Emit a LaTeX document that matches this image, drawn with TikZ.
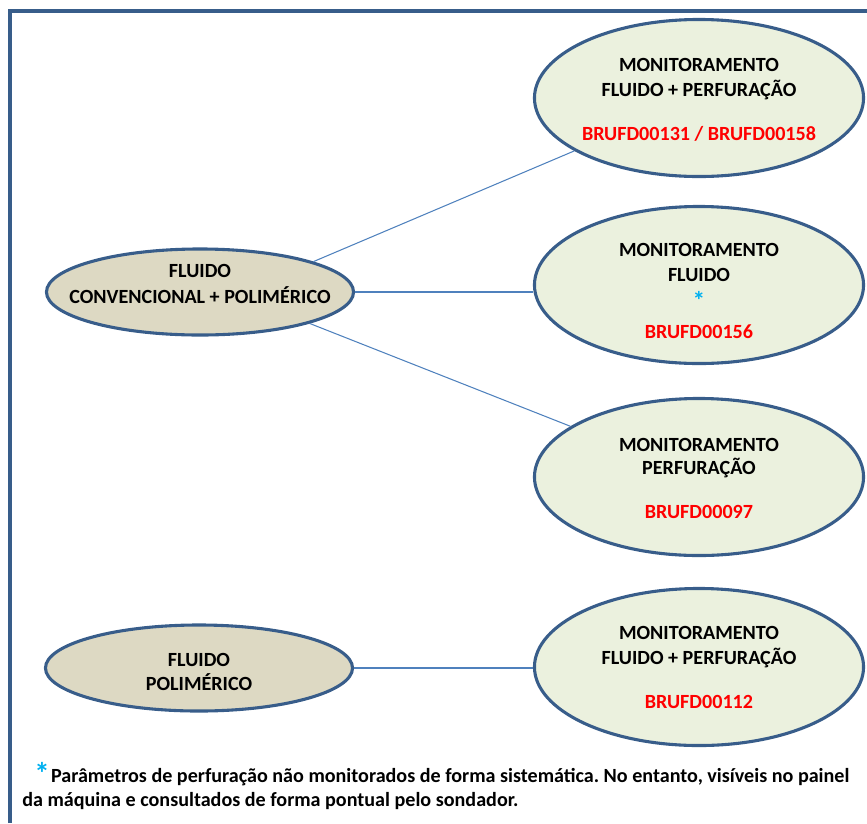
\documentclass[tikz,border=0pt]{standalone}
\usepackage{fontspec}
\setmainfont{Carlito}
\usetikzlibrary{shapes.geometric}

\definecolor{borderblue}{HTML}{385D8A}
\definecolor{linkblue}{HTML}{4F81BD}
\definecolor{tanfill}{HTML}{DDD9C3}
\definecolor{greenfill}{HTML}{EBF1DE}
\definecolor{brured}{HTML}{FF0000}
\definecolor{starblue}{HTML}{00B0F0}

\frenchspacing

\begin{document}
\begin{tikzpicture}[x=0.025cm, y=-0.025cm,
    blob/.style={ellipse, draw=borderblue, line width=2.2pt, inner sep=0pt},
    fluid/.style={blob, fill=tanfill, minimum width=7.675cm, minimum height=2.15cm},
    monit/.style={blob, fill=greenfill, minimum width=8.225cm, minimum height=3.925cm},
    txt/.style={anchor=base, align=center, inner sep=0pt, font=\fontsize{14.3}{17.8}\selectfont\bfseries},
    link/.style={draw=linkblue, line width=0.75pt}]

            \useasboundingbox (0,0) rectangle (867,823);
            \draw[borderblue, line width=2.3pt] (10,823) -- (10,11) -- (867,11);

            \node[fluid] (F_1) at (200,292) {};
            \node[fluid] (F_2) at (199,668) {};

            \node[monit] (M_1) at (699,98) {};
            \node[monit] (M_2) at (699,285) {};
            \node[monit] (M_3) at (699,477) {};
            \node[monit] (M_4) at (699,667) {};

            % textos (ancorados na ultima linha)
            \node[txt] (F_1txt) at (200,303) {FLUIDO\\CONVENCIONAL + POLIMÉRICO};
            \node[txt] (F_2txt) at (199,690) {FLUIDO\\[-1.4pt]POLIMÉRICO};
            \node[txt] (M_1txt) at (699,140) {MONITORAMENTO\\FLUIDO + PERFURAÇÃO\\[12.8pt]\textcolor{brured}{BRUFD00131 / BRUFD00158}};
            \node[txt] (M_2txt) at (699,338) {MONITORAMENTO\\FLUIDO\\{\color{starblue}\fontsize{18}{18}\selectfont\raisebox{-2pt}{*}}\\[4.3pt]\textcolor{brured}{BRUFD00156}};
            \node[txt] (M_3txt) at (699,518) {MONITORAMENTO\\[-1.4pt]PERFURAÇÃO\\[12.8pt]\textcolor{brured}{BRUFD00097}};
            \node[txt] (M_4txt) at (699,708) {MONITORAMENTO\\FLUIDO + PERFURAÇÃO\\[12.8pt]\textcolor{brured}{BRUFD00112}};

            \draw[link] (F_1.15) -- (M_1);
            \draw[link] (F_1.east) -- (F_1.east -| M_2.west);
            \draw[link] (F_1.-16) -- (M_3);
            \draw[link] (F_2.east) -- (F_2.east -| M_4.west);

            % nota de rodape
            \node[anchor=base west, align=left, inner sep=0pt, font=\fontsize{14.3}{17}\selectfont\bfseries] (nota) at (22,806)
                {\hspace*{0.3cm}{\color{starblue}\fontsize{22}{17}\selectfont\raisebox{-2pt}{*}}\hspace{1pt}Parâmetros de perfuração não monitorados de forma sistemática. No entanto, visíveis no painel\\
                 da máquina e consultados de forma pontual pelo sondador.};
        \end{tikzpicture}
\end{document}
